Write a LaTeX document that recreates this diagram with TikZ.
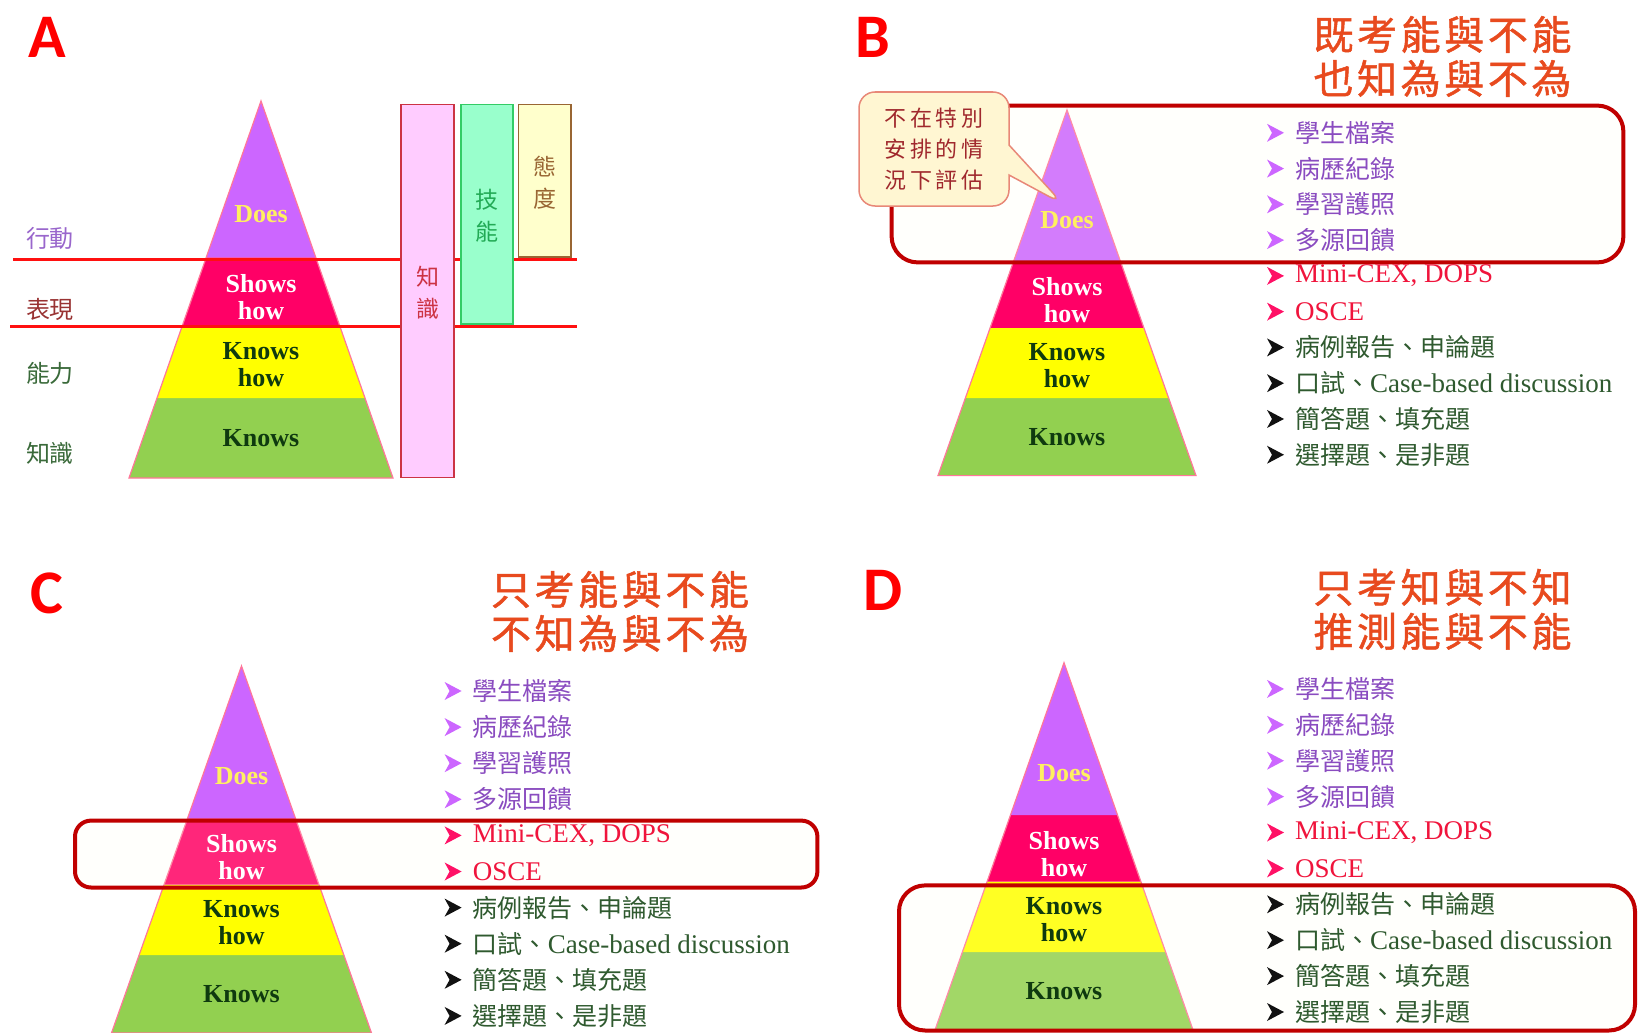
\documentclass[tikz,border=0pt]{standalone}
\usepackage{fontspec}
\setmainfont{Liberation Serif}
\newfontfamily\cjk{Noto Sans CJK TC}
\newfontfamily\cjkt{Noto Sans CJK TC}[LetterSpace=9, FakeBold=1.2]
\newfontfamily\cjkc{Noto Sans CJK TC}[LetterSpace=16]
\newfontfamily\panelfont{Carlito}
\usetikzlibrary{shapes.callouts}
\definecolor{cdoes}{HTML}{CC66FF}
\definecolor{cshows}{HTML}{FF0066}
\definecolor{ckh}{HTML}{FFFF00}
\definecolor{cknows}{HTML}{92D050}
\definecolor{pedge}{HTML}{FF7799}
\definecolor{cdoest}{HTML}{FFF060}
\definecolor{cknowt}{HTML}{0F3A0F}
\definecolor{redline}{HTML}{FF1010}
\definecolor{hlred}{HTML}{C00000}
\definecolor{hlfill}{HTML}{FFFFF0}
\definecolor{titlec}{HTML}{E84A1E}
\definecolor{tpur}{HTML}{8A4CC0}
\definecolor{bpur}{HTML}{CC66FF}
\definecolor{tred}{HTML}{F0143C}
\definecolor{bred}{HTML}{FF1166}
\definecolor{tgrn}{HTML}{2F5A2F}
\definecolor{bgrn}{HTML}{111111}
\definecolor{lpur}{HTML}{9966CC}
\definecolor{lred}{HTML}{993333}
\definecolor{lgrn}{HTML}{3A6A3A}
\definecolor{pinkf}{HTML}{FFCCFF}
\definecolor{pinkd}{HTML}{CC3344}
\definecolor{greenf}{HTML}{99FFCC}
\definecolor{greend}{HTML}{33CC66}
\definecolor{greent}{HTML}{22AA55}
\definecolor{yelf}{HTML}{FFFFCC}
\definecolor{yeld}{HTML}{996633}
\definecolor{callf}{HTML}{FFF6D2}
\definecolor{calld}{HTML}{E88878}
\definecolor{callt}{HTML}{A0282D}

\newcommand\cj[1]{{\cjk\fontsize{25}{30}\selectfont #1}}

\newcommand\pyrshape[4]{% apex x, apex y, base y, half width
  \pgfmathsetmacro\ph{#3-#2}%
  \fill[cknows] ({#1-0.788*#4},{#2+0.788*\ph}) -- ({#1+0.788*#4},{#2+0.788*\ph}) -- ({#1+#4},{#3}) -- ({#1-#4},{#3}) -- cycle;
  \fill[ckh] ({#1-0.596*#4},{#2+0.596*\ph}) -- ({#1+0.596*#4},{#2+0.596*\ph}) -- ({#1+0.788*#4},{#2+0.788*\ph}) -- ({#1-0.788*#4},{#2+0.788*\ph}) -- cycle;
  \fill[cshows] ({#1-0.415*#4},{#2+0.415*\ph}) -- ({#1+0.415*#4},{#2+0.415*\ph}) -- ({#1+0.596*#4},{#2+0.596*\ph}) -- ({#1-0.596*#4},{#2+0.596*\ph}) -- cycle;
  \fill[cdoes] (#1,#2) -- ({#1+0.415*#4},{#2+0.415*\ph}) -- ({#1-0.415*#4},{#2+0.415*\ph}) -- cycle;
  \draw[pedge, line width=1.2pt] (#1,#2) -- ({#1+#4},{#3}) -- ({#1-#4},{#3}) -- cycle;
}
\newcommand\pyrlabels[4]{% prefix, x, apex y, base y
  \pgfmathsetmacro\ph{#4-#3}%
  \node[plab, text=cdoest] (#1does) at (#2,{#3+0.30*\ph}) {Does};
  \node[plab, text=white] (#1shows) at (#2,{#3+0.52*\ph}) {Shows\\how};
  \node[plab, text=cknowt] (#1kh) at (#2,{#3+0.70*\ph}) {Knows\\how};
  \node[plab, text=cknowt] (#1knows) at (#2,{#3+0.895*\ph}) {Knows};
}
\newcommand\litem[6]{% name, bullet x, y, bullet colour, text colour, text
  \fill[#4] ({#2-8},{#3-9}) -- ({#2+9},{#3}) -- ({#2-8},{#3+9}) -- ({#2-3},{#3}) -- cycle;
  \node[item, text=#5, anchor=west] (#1) at ({#2+20},{#3}) {#6};
}
\newcommand\evallist[4]{% prefix, bullet x, y0, dy
  \litem{#1i1}{#2}{#3}{bpur}{tpur}{\cj{學生檔案}}
  \litem{#1i2}{#2}{#3+#4}{bpur}{tpur}{\cj{病歷紀錄}}
  \litem{#1i3}{#2}{#3+2*#4}{bpur}{tpur}{\cj{學習護照}}
  \litem{#1i4}{#2}{#3+3*#4}{bpur}{tpur}{\cj{多源回饋}}
  \litem{#1i5}{#2}{#3+4*#4}{bred}{tred}{Mini-CEX, DOPS}
  \litem{#1i6}{#2}{#3+5*#4}{bred}{tred}{OSCE}
  \litem{#1i7}{#2}{#3+6*#4}{bgrn}{tgrn}{\cj{病例報告、申論題}}
  \litem{#1i8}{#2}{#3+7*#4}{bgrn}{tgrn}{\cj{口試、}Case-based discussion}
  \litem{#1i9}{#2}{#3+8*#4}{bgrn}{tgrn}{\cj{簡答題、填充題}}
  \litem{#1i10}{#2}{#3+9*#4}{bgrn}{tgrn}{\cj{選擇題、是非題}}
}

\begin{document}
\begin{tikzpicture}[x=1pt, y=-1pt,
  every node/.style={inner sep=0pt},
  plab/.style={font=\fontsize{26}{27}\selectfont\bfseries, align=center},
  item/.style={font=\fontsize{27}{30}\selectfont},
  panel/.style={font=\panelfont\bfseries\fontsize{62}{62}\selectfont, text=red},
  ttl/.style={font=\cjkt\fontsize{40}{44}\selectfont, text=titlec, align=center},
  side/.style={font=\cjk\fontsize{24}{26}\selectfont},
  vert/.style={font=\cjk\fontsize{23}{32}\selectfont, align=center},
  hl/.style={draw=hlred, line width=4pt, fill=hlfill, fill opacity=0.15, rounded corners=#1},
  hl/.default=26pt]
\useasboundingbox (0,0) rectangle (1639,1033);
\fill[white] (0,0) rectangle (1639,1033);

% ---------------- Panel A ----------------
\node[panel] (la) at (47,37) {A};
\pyrshape{261}{101}{478}{132}
\draw[redline, line width=3pt] (13,259) -- (577,259);
\draw[redline, line width=3pt] (10,326) -- (577,326);
\pyrlabels{a}{261}{101}{478}
\node[side, text=lpur] (act) at (50,238) {行動};
\node[side, text=lred] (perf) at (50,309) {表現};
\node[side, text=lgrn] (abil) at (50,373) {能力};
\node[side, text=lgrn] (know) at (50,453) {知識};
\draw[pinkd, fill=pinkf, line width=1.5pt] (401,104.5) rectangle (454,477.7);
\draw[greend, fill=greenf, line width=1.5pt] (461,104.5) rectangle (513,324);
\draw[yeld, fill=yelf, line width=1.5pt] (518.5,104.5) rectangle (571,257);
\node[vert, text=pinkd] (vknow) at (427.5,293) {知\\識};
\node[vert, text=greent] (vskill) at (487,215.5) {技\\能};
\node[vert, text=yeld] (vatt) at (544.5,183) {態\\度};

% ---------------- Panel B ----------------
\node[panel] (lb) at (873,37) {B};
\node[ttl] (tb) at (1442.5,56.5) {既考能與不能\\也知為與不為};
\pyrshape{1067}{110}{475.6}{129}
\path[hl] (891.6,105.6) rectangle (1623.4,262.4);
\pyrlabels{b}{1067}{110}{475.6}
\evallist{b}{1275}{132.8}{35.77}
\node[rectangle callout, rounded corners=16pt, fill=callf, draw=calld, line width=1.5pt,
  minimum width=150pt, minimum height=114pt,
  callout absolute pointer={(1063,204)}, callout pointer width=30pt,
  font=\cjkc\fontsize{22}{31}\selectfont, text=callt, align=center] (bcall) at (934,149)
  {不在特別\\安排的情\\況下評估};

% ---------------- Panel C ----------------
\node[panel] (lc) at (47,593) {C};
\node[ttl] (tc) at (620,611.5) {只考能與不能\\不知為與不為};
\pyrshape{241.5}{666}{1033}{130}
\path[hl=16pt] (75,820.6) rectangle (817.4,887.5);
\pyrlabels{c}{241.5}{666}{1033}
\evallist{c}{452.6}{691}{36.1}

% ---------------- Panel D ----------------
\node[panel] (ld) at (883,590.6) {D};
\node[ttl] (td) at (1442.5,609.4) {只考知與不知\\推測能與不能};
\pyrshape{1064}{662.7}{1030}{129}
\path[hl] (899,885.4) rectangle (1635,1030.5);
\pyrlabels{d}{1064}{662.7}{1030}
\evallist{d}{1275}{688.9}{35.9}
\end{tikzpicture}
\end{document}
